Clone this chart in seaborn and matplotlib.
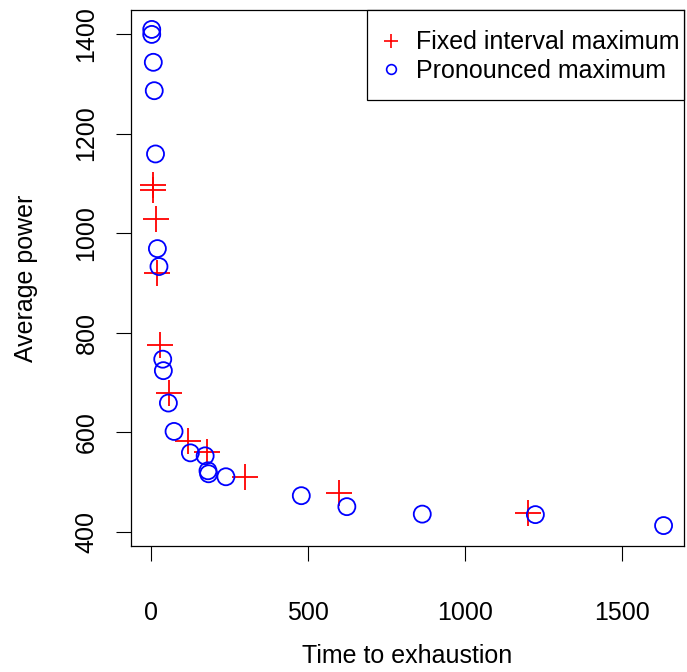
import matplotlib
matplotlib.use("Agg")
import matplotlib.pyplot as plt
from matplotlib.lines import Line2D
from matplotlib.patches import Rectangle
import seaborn as sns
import pandas as pd

fixed_time = [5, 7, 14, 20, 29, 58, 119, 178, 299, 598, 1199]
fixed_power = [1097, 1086, 1029, 921, 776, 679, 583, 561, 510, 479, 438]

pron_time = [2, 2, 7, 10, 14, 20, 25, 37, 39, 55, 73, 125, 172, 181, 183, 238, 478, 623, 863, 1223, 1631]
pron_power = [1409, 1399, 1343, 1286, 1159, 969, 933, 747, 724, 659, 602, 559, 553, 523, 517, 511, 473, 451, 436, 435, 413]

x_ticks = [0, 500, 1000, 1500]
y_ticks = [400, 600, 800, 1000, 1200, 1400]
legend_labels = ["Fixed interval maximum", "Pronounced maximum"]

sns.set_theme(style="white")
plt.rcParams["font.family"] = ["Liberation Sans", "DejaVu Sans"]
plt.rcParams["text.color"] = "black"
plt.rcParams["axes.labelcolor"] = "black"

fixed_df = pd.DataFrame({"time": fixed_time, "power": fixed_power})
pron_df = pd.DataFrame({"time": pron_time, "power": pron_power})

fig = plt.figure(figsize=(6.87, 6.72), dpi=100)
ax = fig.add_axes([131 / 687, 1 - 546 / 672, 553 / 687, 536 / 672])

sns.scatterplot(data=fixed_df, x="time", y="power", ax=ax, marker="+",
                s=330, color="#FF0000", linewidth=1.3, zorder=3)
sns.scatterplot(data=pron_df, x="time", y="power", ax=ax, marker="o",
                s=150, facecolor="none", edgecolor="#0000FF", linewidth=1.3, zorder=3)

ax.set_xlim(-64, 1696)
ax.set_ylim(372, 1448)
ax.set_xticks(x_ticks)
ax.set_yticks(y_ticks)

for s in ax.spines.values():
    s.set_visible(True)
    s.set_color("black")
    s.set_linewidth(0.9)

ax.tick_params(axis="both", direction="out", length=11, width=0.8, color="black",
               labelsize=18, labelcolor="black", bottom=True, left=True)
ax.tick_params(axis="x", pad=37)
ax.tick_params(axis="y", pad=21)
for lab in ax.get_xticklabels():
    lab.set_va("center")
for lab in ax.get_yticklabels():
    lab.set_rotation(90)
    lab.set_va("center")
    lab.set_ha("center")

ax.set_xlabel("Time to exhaustion", fontsize=18, color="black")
ax.set_ylabel("Average power", fontsize=18, color="black")
ax.xaxis.label.set_va("center")
ax.yaxis.label.set_va("center")
ax.xaxis.set_label_coords(0.5, -(656 - 546) / 536)
ax.yaxis.set_label_coords(-(131 - 26) / 553, 0.5)

# legend frame (R-style box in the upper-right corner)
ax.add_patch(Rectangle(((367 - 131) / 553, (546 - 100) / 536),
                       (684 - 367) / 553, (100 - 10) / 536,
                       transform=ax.transAxes, facecolor="white",
                       edgecolor="black", linewidth=0.9, zorder=4, clip_on=False))

handles = [
    Line2D([], [], linestyle="none", marker="+", markersize=9.5, markeredgewidth=1.2,
           color="#FF0000"),
    Line2D([], [], linestyle="none", marker="o", markersize=7, markeredgewidth=1.2,
           markerfacecolor="none", markeredgecolor="#0000FF"),
]
leg = ax.legend(handles, legend_labels, loc="center left",
                bbox_to_anchor=((378.2 - 131) / 553, (546 - 56.7) / 536),
                fontsize=18, frameon=False, labelcolor="black",
                borderaxespad=0, borderpad=0, handlelength=1.0,
                handletextpad=0.5, labelspacing=0.18)
leg.set_zorder(5)

fig.savefig("out.png", dpi=100)
